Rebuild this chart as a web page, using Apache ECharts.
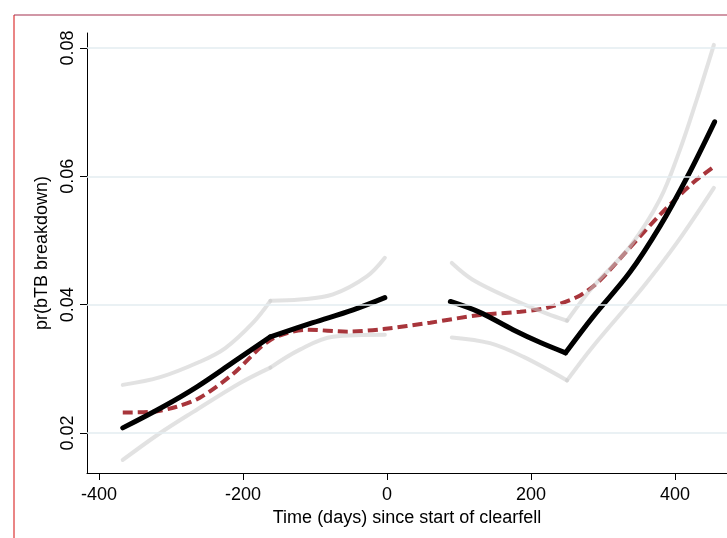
<!DOCTYPE html>
<html>
<head>
<meta charset="utf-8">
<script src="https://cdn.jsdelivr.net/npm/echarts@6/dist/echarts.min.js"></script>
<style>
html,body{margin:0;padding:0;background:#fff;}
#c{width:727px;height:538px;}
</style>
</head>
<body>
<div id="c"></div>
<script>
// ---- data ----
const xTicks = [-400, -200, 0, 200, 400];
const yTicks = [0.02, 0.04, 0.06, 0.08];

const blackPreX  = [-367, -311, -264, -214, -162, -103, -47, -3];
const blackPreY  = [0.0208, 0.0241, 0.0272, 0.0310, 0.0350, 0.0372, 0.0392, 0.0411];
const blackPostX = [88, 129, 175, 213, 248, 286, 337, 379, 417, 455];
const blackPostY = [0.0405, 0.0388, 0.0361, 0.0341, 0.0325, 0.0381, 0.0450, 0.0522, 0.0599, 0.0685];

const upPreX  = [-367, -315, -260, -225, -186, -162, -121, -75, -28, -3];
const upPreY  = [0.0275, 0.0287, 0.0311, 0.0332, 0.0372, 0.0406, 0.0408, 0.0416, 0.0444, 0.0473];
const loPreX  = [-367, -315, -269, -204, -162, -121, -75, -3];
const loPreY  = [0.0158, 0.0200, 0.0233, 0.0278, 0.0302, 0.0330, 0.0350, 0.0353];

const upPostX = [90, 119, 175, 222, 250, 286, 337, 379, 407, 430, 454];
const upPostY = [0.0465, 0.0439, 0.0408, 0.0386, 0.0375, 0.0428, 0.0490, 0.0564, 0.0642, 0.0719, 0.0805];
const loPostX = [90, 143, 189, 250, 286, 356, 403, 454];
const loPostY = [0.0349, 0.0340, 0.0319, 0.0282, 0.0335, 0.0428, 0.0497, 0.0582];

const redX = [-367, -326, -292, -260, -214, -162, -111, -55, -5, 60, 129, 185, 222, 264, 292, 335, 379, 425, 454];
const redY = [0.0232, 0.0233, 0.0241, 0.0255, 0.0292, 0.0345, 0.0361, 0.0358, 0.0362, 0.0372, 0.0384, 0.0389, 0.0395, 0.0412, 0.0434, 0.0486, 0.0540, 0.0590, 0.0615];

// knot (kink) positions of the piecewise curves
const kinkPre = -162;
const kinkPost = 250;

const zip = (xs, ys) => xs.map((x, i) => [x, ys[i]]);
// split a curve into two pieces at its kink so each piece can be smoothed
function splitAt(xs, ys, k) {
  const pts = zip(xs, ys);
  let idx = 0, best = Infinity;
  pts.forEach((p, i) => { const d = Math.abs(p[0] - k); if (d < best) { best = d; idx = i; } });
  return [pts.slice(0, idx + 1), pts.slice(idx)];
}

const FONT = '"Liberation Sans", Arial, sans-serif';
const chart = echarts.init(document.getElementById('c'), null, {renderer: 'canvas'});

const grayStyle = {color: '#cacaca', width: 4, opacity: 0.55, cap: 'round'};
function grayLines(xs, ys, k) {
  return splitAt(xs, ys, k).map(d => ({type: 'line', data: d, showSymbol: false, smooth: 0.35, z: 3,
          lineStyle: grayStyle, itemStyle: {color: '#cacaca'}}));
}
function blackLines(xs, ys, k) {
  return splitAt(xs, ys, k).map(d => ({type: 'line', data: d, showSymbol: false, smooth: 0.35, z: 4,
          lineStyle: {color: '#000', width: 5, cap: 'round', join: 'round'}, itemStyle: {color: '#000'}}));
}

chart.setOption({
  animation: false,
  backgroundColor: '#fff',
  grid: {left: 87, right: 0, top: 33, bottom: 65, containLabel: false},
  xAxis: {
    type: 'value', min: -416.67, max: 472.2,
    name: 'Time (days) since start of clearfell',
    nameLocation: 'middle', nameGap: 30,
    nameTextStyle: {color: '#000', fontSize: 18, fontFamily: FONT},
    axisLine: {show: true, onZero: false, lineStyle: {color: '#000', width: 1}},
    axisTick: {show: true, length: 7, customValues: xTicks, lineStyle: {color: '#000'}},
    axisLabel: {customValues: xTicks, margin: 13, color: '#000', fontSize: 18, fontFamily: FONT},
    splitLine: {show: false}
  },
  yAxis: {
    type: 'value', min: 0.01377, max: 0.08234,
    name: 'pr(bTB breakdown)',
    nameLocation: 'middle', nameGap: 26,
    nameTextStyle: {color: '#000', fontSize: 18, fontFamily: FONT},
    axisLine: {show: true, onZero: false, lineStyle: {color: '#000', width: 1}},
    axisTick: {show: true, length: 7, customValues: yTicks, lineStyle: {color: '#000'}},
    axisLabel: {customValues: yTicks, rotate: 90, margin: 10, color: '#000', fontSize: 18, fontFamily: FONT,
                formatter: v => v.toFixed(2)},
    splitLine: {show: false}
  },
  graphic: [
    {type: 'line', shape: {x1: 14, y1: 15, x2: 14, y2: 538}, style: {stroke: '#e35d5d', lineWidth: 1.5}, z: 100},
    {type: 'line', shape: {x1: 14, y1: 15, x2: 727, y2: 15}, style: {stroke: '#a3304f', lineWidth: 1.2}, z: 100}
  ],
  series: [
    {type: 'line', data: [], z: 1, silent: true,
     markLine: {silent: true, symbol: 'none', animation: false,
                label: {show: false},
                lineStyle: {color: '#e3edf0', type: 'solid', width: 1.5},
                data: yTicks.map(v => ({yAxis: v}))}},
    {type: 'line', data: zip(redX, redY), showSymbol: false, smooth: 0.3, z: 2,
     lineStyle: {color: '#a8353b', width: 4, type: [10, 5]}, itemStyle: {color: '#a8353b'}},
    ...grayLines(upPreX, upPreY, kinkPre),
    ...grayLines(loPreX, loPreY, kinkPre),
    ...grayLines(upPostX, upPostY, kinkPost),
    ...grayLines(loPostX, loPostY, kinkPost),
    ...blackLines(blackPreX, blackPreY, kinkPre),
    ...blackLines(blackPostX, blackPostY, kinkPost)
  ]
});
</script>
</body>
</html>
